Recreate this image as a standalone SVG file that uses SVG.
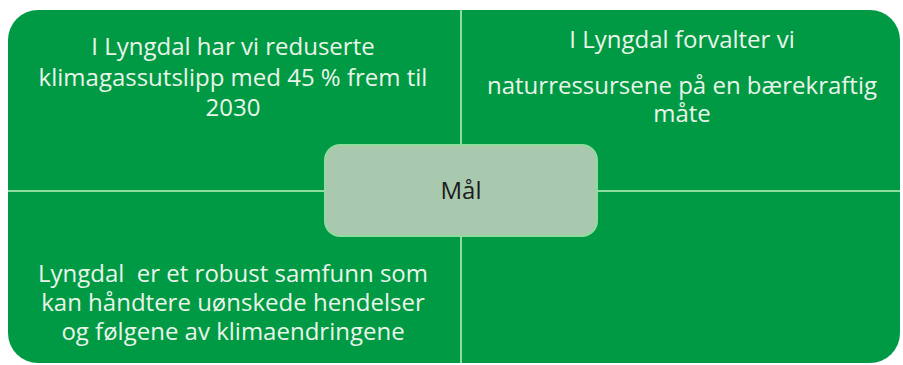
<svg xmlns="http://www.w3.org/2000/svg" width="903" height="365" viewBox="0 0 903 365">
<style>
.q{fill:#009a44}
.d{stroke:#8fdc9c;stroke-width:2;fill:none}
.t{font-family:"Open Sans","Noto Sans",sans-serif;font-size:24px;fill:#eaf5ea;text-anchor:middle;white-space:pre}
.c{fill:#a9c9ae;stroke:#8fdc9c;stroke-width:2}
.ct{font-family:"Open Sans","Noto Sans",sans-serif;font-size:24px;fill:#1c1c1c;text-anchor:middle}
</style>
<rect width="903" height="365" fill="#ffffff"/>
<g id="q-top-left">
<path class="q" d="M8,40 A30,30 0 0 1 38,10 L461,10 L461,191 L8,191 Z"/>
<text class="t" x="233" y="55">I Lyngdal har vi reduserte</text>
<text class="t" x="233" y="86">klimagassutslipp med 45 % frem til</text>
<text class="t" x="233" y="116">2030</text>
</g>
<g id="q-top-right">
<path class="q" d="M461,10 L870,10 A30,30 0 0 1 900,40 L900,191 L461,191 Z"/>
<text class="t" x="682" y="48">I Lyngdal forvalter vi</text>
<text class="t" x="682" y="94">naturressursene på en bærekraftig</text>
<text class="t" x="682" y="122">måte</text>
</g>
<g id="q-bottom-left">
<path class="q" d="M8,191 L461,191 L461,363 L38,363 A30,30 0 0 1 8,333 Z"/>
<text class="t" x="233" y="282" xml:space="preserve">Lyngdal  er et robust samfunn som</text>
<text class="t" x="233" y="311">kan håndtere uønskede hendelser</text>
<text class="t" x="233" y="340">og følgene av klimaendringene</text>
</g>
<g id="q-bottom-right">
<path class="q" d="M461,191 L900,191 L900,333 A30,30 0 0 1 870,363 L461,363 Z"/>
</g>
<g id="connectors">
<line class="d" x1="461" y1="10" x2="461" y2="363"/>
<line class="d" x1="8" y1="191" x2="900" y2="191"/>
</g>
<g id="center">
<rect class="c" x="325" y="145" width="272" height="91" rx="15" ry="15"/>
<text class="ct" x="461" y="199">Mål</text>
</g>
</svg>
